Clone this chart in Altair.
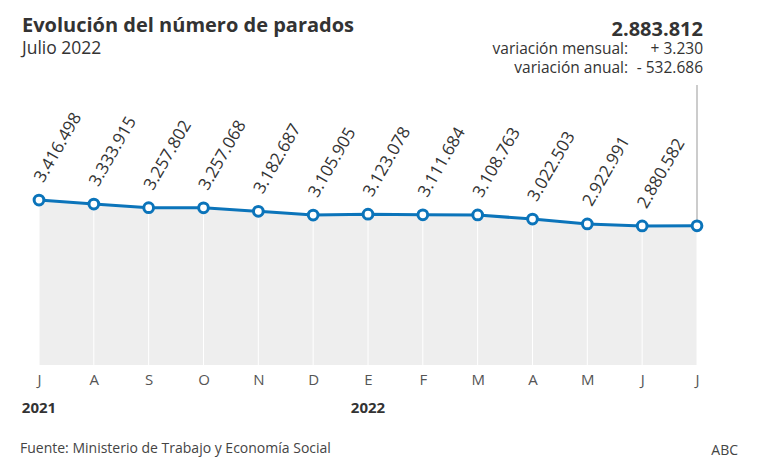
import altair as alt
import pandas as pd

# ---- data -------------------------------------------------------------
keys = ["2021-07", "2021-08", "2021-09", "2021-10", "2021-11", "2021-12",
        "2022-01", "2022-02", "2022-03", "2022-04", "2022-05", "2022-06", "2022-07"]
month_letters = ["J", "A", "S", "O", "N", "D", "E", "F", "M", "A", "M", "J", "J"]
parados = [3416498, 3333915, 3257802, 3257068, 3182687, 3105905, 3123078,
           3111684, 3108763, 3022503, 2922991, 2880582, 2883812]
years = ["2021", "2022"]
year_keys = ["2021-07", "2022-01"]

title_text = "Evolución del número de parados"
subtitle_text = "Julio 2022"
source_text = "Fuente: Ministerio de Trabajo y Economía Social"
brand_text = "ABC"

BLUE = "#0b74ba"
FONT = "Open Sans"


def es(n):
    return f"{n:,}".replace(",", ".")


def signed(n):
    return ("+ " if n >= 0 else "- ") + es(abs(n))


df = pd.DataFrame({
    "key": keys,
    "mes": month_letters,
    "parados": parados,
    "etiqueta": [es(v) for v in parados],
})
last_key = keys[-1]

df_years = pd.DataFrame({"key": year_keys, "year": years})

head = pd.DataFrame({
    "total": [es(parados[-1])],
    "mensual": [signed(parados[-1] - parados[-2])],
    "anual": [signed(parados[-1] - parados[0])],
    "lab_m": ["variación mensual:"],
    "lab_a": ["variación anual:"],
    "title": [title_text],
    "subtitle": [subtitle_text],
    "source": [source_text],
    "brand": [brand_text],
})

label_expr = ("[" + ",".join(f"'{m}'" for m in month_letters) + "][indexof(["
              + ",".join(f"'{k}'" for k in keys) + "], datum.value)]")

x_enc = alt.X("key:O",
              scale=alt.Scale(type="point", domain=keys, padding=0),
              axis=alt.Axis(title=None, labelAngle=0, labelExpr=label_expr,
                            ticks=False, domain=False, grid=False,
                            labelFontSize=15, labelColor="#555555",
                            labelPadding=7, labelFont=FONT))
y_enc = alt.Y("parados:Q", scale=alt.Scale(domain=[0, 5800000]), axis=None)

base = alt.Chart(df)

area = base.mark_area(color="#eeeeee").encode(x=x_enc, y=y_enc)
grid = base.mark_rule(color="white", strokeWidth=1).encode(
    x=x_enc, y=y_enc, y2=alt.datum(0))
vrule = base.transform_filter(alt.datum.key == last_key).mark_rule(
    color="#999999", strokeWidth=1).encode(x=x_enc, y=y_enc, y2=alt.value(0))
line = base.mark_line(color=BLUE, strokeWidth=3).encode(x=x_enc, y=y_enc)
points = base.mark_point(shape="circle", filled=True, fill="white", stroke=BLUE,
                         strokeWidth=3, size=95, opacity=1).encode(x=x_enc, y=y_enc)
labels = base.transform_filter(alt.datum.key != last_key).mark_text(
    angle=300, align="left", baseline="alphabetic", dx=16.5, dy=-4.5,
    fontSize=17, color="#333333", font=FONT).encode(x=x_enc, y=y_enc, text="etiqueta:N")

year_text = alt.Chart(df_years).mark_text(
    align="center", baseline="alphabetic", fontSize=15, fontWeight="bold",
    color="#333333", font=FONT).encode(x=x_enc, y=alt.value(328), text="year:N")

hc = alt.Chart(head)
t_title = hc.mark_text(align="left", baseline="alphabetic", fontSize=20,
                       fontWeight="bold", color="#333333", font=FONT).encode(
    x=alt.value(-17), y=alt.value(-53), text="title:N")
t_sub = hc.mark_text(align="left", baseline="alphabetic", fontSize=17.5,
                     color="#333333", font=FONT).encode(
    x=alt.value(-17), y=alt.value(-31), text="subtitle:N")
t_total = hc.mark_text(align="right", baseline="alphabetic", fontSize=20,
                       fontWeight="bold", color="#333333", font=FONT).encode(
    x=alt.value(664), y=alt.value(-49), text="total:N")
t_lab_m = hc.mark_text(align="right", baseline="alphabetic", fontSize=15.5,
                       color="#333333", font=FONT).encode(
    x=alt.value(589), y=alt.value(-31), text="lab_m:N")
t_lab_a = hc.mark_text(align="right", baseline="alphabetic", fontSize=15.5,
                       color="#333333", font=FONT).encode(
    x=alt.value(589), y=alt.value(-12), text="lab_a:N")
t_m = hc.mark_text(align="right", baseline="alphabetic", fontSize=15.5,
                   color="#333333", font=FONT).encode(
    x=alt.value(664), y=alt.value(-31), text="mensual:N")
t_a = hc.mark_text(align="right", baseline="alphabetic", fontSize=15.5,
                   color="#333333", font=FONT).encode(
    x=alt.value(664), y=alt.value(-12), text="anual:N")
t_source = hc.mark_text(align="left", baseline="alphabetic", fontSize=14,
                        color="#444444", font=FONT).encode(
    x=alt.value(-19), y=alt.value(368), text="source:N")
t_brand = hc.mark_text(align="right", baseline="alphabetic", fontSize=14,
                       color="#444444", font=FONT).encode(
    x=alt.value(699), y=alt.value(370), text="brand:N")

chart = alt.layer(
    area, grid, vrule, line, points, labels, year_text,
    t_title, t_sub, t_total, t_lab_m, t_lab_a, t_m, t_a, t_source, t_brand,
).properties(
    width=658, height=280,
    autosize=alt.AutoSizeParams(type="none"),
    padding={"left": 31, "top": 77, "right": 53, "bottom": 96},
).configure(font=FONT, background="white").configure_view(stroke=None)

chart.save("out.html", embed_options={"renderer": "svg", "actions": False})
